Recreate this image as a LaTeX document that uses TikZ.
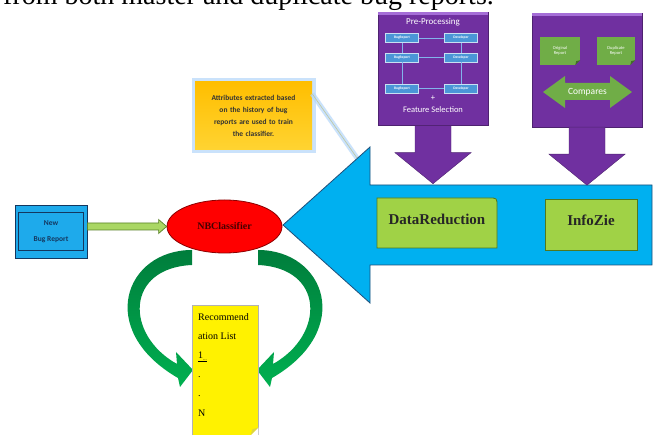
\documentclass[tikz,border=0pt]{standalone}
\usepackage{fontspec}
\setmainfont{Liberation Serif}
\newfontfamily\calibri{Carlito}
\usetikzlibrary{shapes.geometric,calc}

\definecolor{purpled}{RGB}{112,48,160}
\definecolor{purplel}{RGB}{165,110,215}
\definecolor{cyand}{RGB}{0,176,240}
\definecolor{cyanedge}{RGB}{31,78,121}
\definecolor{greenl}{RGB}{160,210,70}
\definecolor{greenedge}{RGB}{80,120,30}
\definecolor{noted}{RGB}{112,173,71}
\definecolor{tinyblue}{RGB}{75,150,215}
\definecolor{lineblue}{RGB}{130,180,235}
\definecolor{redd}{RGB}{255,0,0}
\definecolor{rededge}{RGB}{140,0,0}
\definecolor{newblue}{RGB}{30,170,235}
\definecolor{newedge}{RGB}{20,55,95}
\definecolor{orangey}{RGB}{255,190,0}
\definecolor{yellowy}{RGB}{255,212,50}
\definecolor{glowblue}{RGB}{180,215,250}
\definecolor{hookline}{RGB}{190,200,160}
\definecolor{arcdark}{RGB}{0,125,60}
\definecolor{arclight}{RGB}{0,176,80}
\definecolor{shaftl}{RGB}{170,215,100}
\definecolor{shaftd}{RGB}{90,130,40}

\tikzset{
  purplebox/.style={draw=purpled!70!black, fill=purpled, minimum width=110, minimum height=113, inner sep=0},
  purplearrow/.style={draw=purpled!70!black, fill=purpled},
  tinybox/.style={fill=tinyblue, draw=white!70!tinyblue, minimum width=33, minimum height=9, inner sep=0, text=white, font=\calibri\bfseries\fontsize{3.6}{4}\selectfont},
  tinyline/.style={lineblue, line width=0.5},
  whitetext/.style={text=white, font=\calibri\fontsize{8.5}{10}\selectfont, inner sep=0},
  greennote/.style={fill=noted, minimum width=40, minimum height=28, inner sep=0, align=center, text=white, font=\calibri\fontsize{4.5}{5.5}\selectfont},
  bigbox/.style={draw=greenedge, fill=greenl, line width=0.8},
  boxlabel/.style={font=\bfseries\fontsize{15}{18}\selectfont, text=black!85, inner sep=0}
}

\begin{document}
\begin{tikzpicture}[x=1pt,y=-1pt]
            \fill[white] (0,0) rectangle (657,435);
            \useasboundingbox (0,0) rectangle (657,435);
            \node[anchor=base west, inner sep=0, font=\fontsize{28}{30}\selectfont] (caption) at (3,5) {from both master and duplicate bug reports.};

            \node[top color=orangey, bottom color=yellowy, preaction={draw=glowblue, line width=7, opacity=0.7}, minimum width=117, minimum height=68, text width=110, align=center, font=\calibri\bfseries\fontsize{7.5}{12.2}\selectfont, text=black!80] (attr) at (253.5,116) {Attributes extracted based\\on the history of bug\\reports are used to train\\the classifier.};
            \coordinate (hook) at (357,158);
            \draw[glowblue, line width=5, opacity=0.7] ([yshift=-12]attr.north east) -- (hook);
            \draw[hookline, line width=0.6] ([yshift=-12]attr.north east) -- (hook);

            \draw[draw=cyanedge, fill=cyand, line width=0.8] (283,225) -- (370,147) -- (370,185) -- (652,185) -- (652,265) -- (370,265) -- (370,303) -- cycle;

            \node[purplebox] (pre) at (433,69) {};
            \node[purplebox, minimum height=114] (cmp) at (587,70) {};
            \foreach \b in {pre,cmp}
                {\fill[purplel] (\b.north west) rectangle ([yshift=-3]\b.north east);
                 \draw[purplearrow] ([xshift=-18]\b.south) -- ++(0,27) -- ++(-20,0) -- ++(38,31) -- ++(38,-31) -- ++(-20,0) -- ++(0,-27) -- cycle;}

            \node[whitetext, font=\calibri\fontsize{9}{10}\selectfont] (pptitle) at (433,22) {Pre-Processing};
            \foreach \r/\y in {1/38,2/57.5,3/88.5}
                {\node[tinybox] (bug\r) at (402,\y) {BugReport};
                 \node[tinybox] (dev\r) at (461,\y) {Developer};
                 \draw[tinyline] (bug\r) -- (dev\r);}
            \draw[tinyline] (bug1) -- (bug2) -- (bug3) (dev1) -- (dev2) -- (dev3);
            \node[whitetext] (plus) at (433,98.5) {+};
            \node[whitetext] (fsel) at (433,110) {Feature Selection};

            \node[greennote] (orig) at (560,51) {Original\\Report};
            \node[greennote, minimum width=38] (dup) at (616,51) {Duplicate\\Report};
            \foreach \n in {orig,dup}
                {\fill[purpled] ([xshift=-5]\n.south east) -- (\n.south east) -- ([yshift=5]\n.south east) -- cycle;
                 \fill[noted!60!black] ([xshift=-5]\n.south east) -- ([yshift=5]\n.south east) -- ([xshift=-4,yshift=4]\n.south east) -- cycle;}
            \fill[noted] (543,92) -- (565,76) -- (565,83) -- (610,83) -- (610,76) -- (632,92) -- (610,108) -- (610,100) -- (565,100) -- (565,108) -- cycle;
            \node[whitetext, font=\calibri\fontsize{9.5}{11}\selectfont] (cmptxt) at (587.5,92) {Compares};

            \draw[bigbox] (377,248) -- (377,198) -- (489,198) .. controls (497,198) .. (497,206) -- (497,248) -- cycle;
            \node[boxlabel] (dr) at (437,219) {DataReduction};
            \draw[bigbox] (545,199) rectangle (637,250);
            \node[boxlabel] (iz) at (591,220) {InfoZie};

            \node[draw=newedge, fill=newblue, line width=0.8, minimum width=72, minimum height=53] (nbr) at (51,231.5) {};
            \draw[newedge, line width=0.6] ($(nbr.center)+(-32.5,-19)$) rectangle ($(nbr.center)+(32.5,19)$);
            \node[font=\calibri\bfseries\fontsize{7.5}{9}\selectfont, text=newedge, align=center] (nbrtxt) at (nbr.center) {New\\[7pt]Bug Report};

            \foreach \s in {1,-1}
                {\begin{scope}[shift={(225,0)}, xscale=\s]
                 \shade[top color=arcdark, bottom color=arclight] (-33,250) .. controls (-100,250) and (-130,330) .. (-47,378) -- (-45,387) -- (-32,370) -- (-49,352) -- (-48,364) .. controls (-100,335) and (-100,268) .. (-33,265) -- cycle;
                 \end{scope}}

            \node[ellipse, draw=rededge, fill=redd, line width=0.8, minimum width=115, minimum height=53, font=\bfseries\fontsize{10}{12}\selectfont, text=rededge!50!black] (nbc) at (224.5,226.5) {NBClassifier};
            \coordinate (gs) at (nbr.east |- nbc.west);
            \draw[draw=shaftd, fill=shaftl, line width=0.7] ($(gs)+(0,-3.5)$) -- ($(nbc.west)+(-8,-3.5)$) -- ($(nbc.west)+(-8,-7)$) -- (nbc.west) -- ($(nbc.west)+(-8,7)$) -- ($(nbc.west)+(-8,3.5)$) -- ($(gs)+(0,3.5)$) -- cycle;

            \node[draw=gray!60, fill=yellow, minimum width=66, minimum height=130, anchor=north west, inner sep=0] (rec) at (192,305) {};
            \fill[white] ([xshift=-8]rec.south east) -- (rec.south east) -- ([yshift=8]rec.south east) -- cycle;
            \fill[yellow!70!gray] ([xshift=-8]rec.south east) -- ([yshift=8]rec.south east) -- ([xshift=-6,yshift=6]rec.south east) -- cycle;
            \node[anchor=north west, align=left, inner sep=0, font=\fontsize{10}{19.2}\selectfont] (rectxt) at (198,313) {Recommend\\ation List\\\underline{1\textsubscript{\tiny...}}\\.\\.\\N};
        \end{tikzpicture}
\end{document}
